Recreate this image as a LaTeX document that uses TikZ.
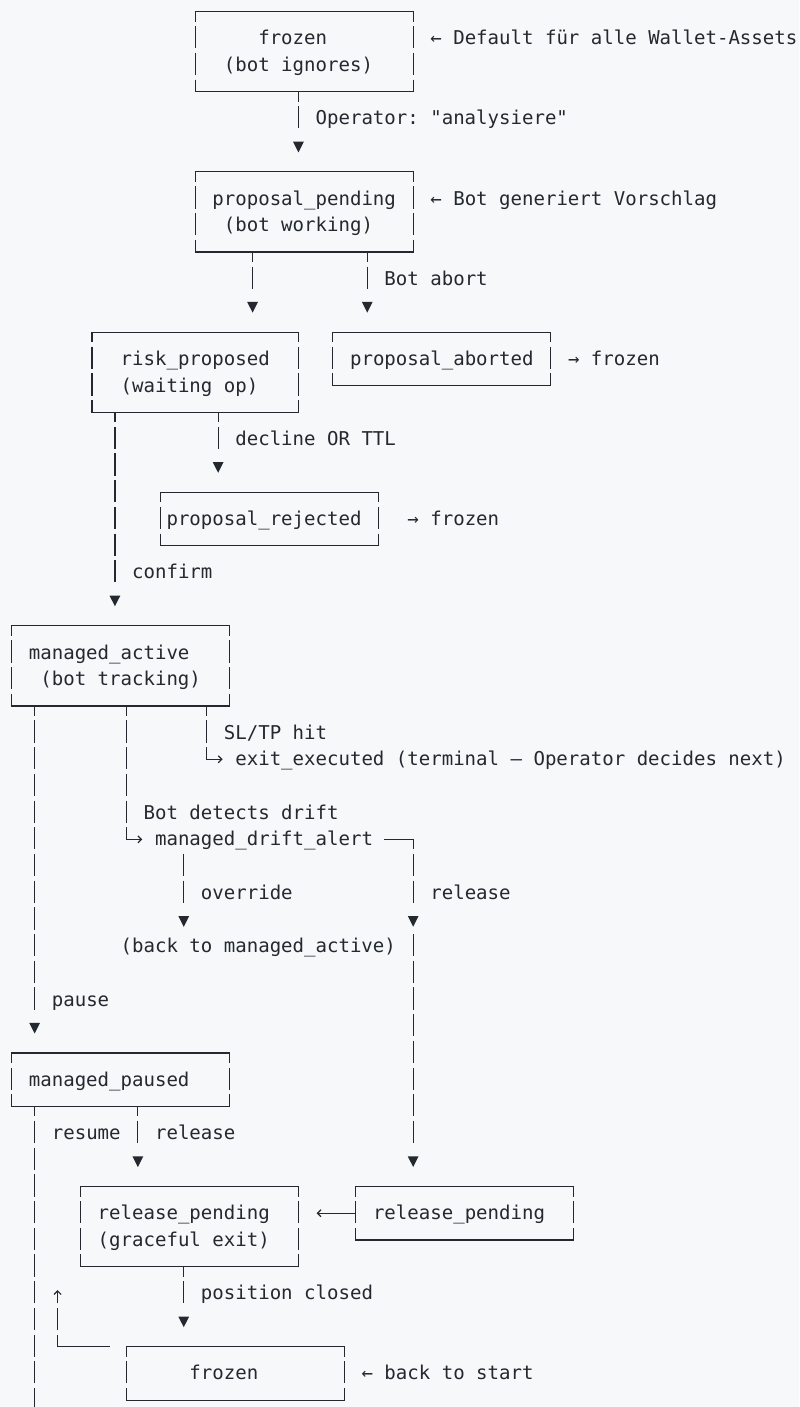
\documentclass[tikz,border=0pt]{standalone}
\usepackage{fontspec}
\newfontfamily\asmono{DejaVu Sans Mono}[Ligatures=TeXOff, WordSpace={1,0,0}]
\usetikzlibrary{arrows.meta}
\definecolor{bgc}{HTML}{F6F8FA}
\definecolor{ink}{HTML}{24292F}
\newlength\cw \setlength\cw{11.47pt}
\frenchspacing
\newcommand\rs{\rule[-6.85pt]{0pt}{26.7pt}}
\newcommand\ind[1]{\hspace*{#1\cw}}
\newcommand\asbox[6]{%
  \pgfmathsetlengthmacro\asbw{(#4-#2)*\cw}%
  \pgfmathsetlengthmacro\asbh{(#5-#3)*26.7pt}%
  \node[align=left, text width=\asbw, minimum width=\asbw, minimum height=\asbh] (#1) at ({(#2+#4)/2},{(#3+#5)/2}) {\spaceskip=\cw\relax\xspaceskip=\cw\relax#6};
  \draw[hl] (#1.north west) -- (#1.north east);
  \draw[hl] (#1.south west) -- (#1.south east);
  \draw[vlA] (#1.north west) -- (#1.south west);
  \draw[vlA] (#1.north east) -- (#1.south east);
}
\begin{document}
\begin{tikzpicture}[x=11.47pt, y=-26.7pt,
  every node/.style={font=\asmono\fontsize{19.05pt}{26.7pt}\selectfont\frenchspacing, text=ink, inner sep=0pt, outer sep=0pt},
  lbl/.style={anchor=west, text height=19.85pt, text depth=6.85pt},
  hl/.style={draw=ink, line width=1.2pt, line cap=rect},
  vlA/.style={draw=ink, line width=1.2pt, dash pattern=on 22.2pt off 4.5pt, dash phase=12.15pt},
  vlB/.style={draw=ink, line width=1.2pt, dash pattern=on 22.2pt off 4.5pt, dash phase=25.5pt},
  vlU/.style={draw=ink, line width=1.2pt, dash pattern=on 22.2pt off 4.5pt, dash phase=10.05pt},
  tri/.style={shorten >=#1},
  tri/.default=43.4pt,
  dn/.pic={\fill[ink] (-5.4pt,10.7pt) -- (5.4pt,10.7pt) -- (0pt,0pt) -- cycle;},
  sm/.style={-{Straight Barb[length=3.5pt,width=7pt]}},
]
\path[fill=bgc, use as bounding box] (-1.02005,-0.43820) rectangle (68.6400,52.2584);

\foreach \c in {2,4,9,10,11,15,17,18,21,25,31,35} {\coordinate (col\c) at (\c,0);}

% boxes
\asbox{fz1}{16}{0}{35}{3}{\ind{5.5}frozen\rs\\\ind{2.5}(bot ignores)\rs}
\asbox{pp}{16}{6}{35}{9}{\ind{1.5}proposal\_pending\rs\\\ind{2.5}(bot working)\rs}
\asbox{rp}{7}{12}{25}{15}{\ind{2.5}risk\_proposed\rs\\\ind{2.5}(waiting op)\rs}
\asbox{pa}{28}{12}{47}{14}{\ind{1.5}proposal\_aborted\rs}
\asbox{rej}{13}{18}{32}{20}{\ind{0.5}proposal\_rejected\rs}
\asbox{ma}{0}{23}{19}{26}{\ind{1.5}managed\_active\rs\\\ind{2.5}(bot tracking)\rs}
\asbox{mp}{0}{39}{19}{41}{\ind{1.5}managed\_paused\rs}
\asbox{rel1}{6}{44}{25}{47}{\ind{1.5}release\_pending\rs\\\ind{1.5}(graceful exit)\rs}
\asbox{rel2}{30}{44}{49}{46}{\ind{1.5}release\_pending\rs}
\asbox{fz2}{10}{50}{29}{52}{\ind{5.5}frozen\rs}

% labels and notes
\node[lbl] (n1) at (36.5,1) {← Default für alle Wallet-Assets};
\node[lbl] (l1) at (26.5,4) {Operator: "analysiere"};
\node[lbl] (n2) at (36.5,7) {← Bot generiert Vorschlag};
\node[lbl] (l3) at (32.5,10) {Bot abort};
\node[lbl] (n3) at (48.5,13) {→ frozen};
\node[lbl] (l5) at (19.5,16) {decline OR TTL};
\node[lbl] (n4) at (34.5,19) {→ frozen};
\node[lbl] (l6) at (10.5,21) {confirm};
\node[lbl] (l7) at (18.5,27) {SL/TP hit};
\node[lbl] (exitx) at (19.5,28) {exit\_executed (terminal — Operator decides next)};
\node[lbl] (l8) at (11.5,30) {Bot detects drift};
\node[lbl] (drift) at (12.5,31) {managed\_drift\_alert};
\node[lbl] (l9) at (16.5,33) {override};
\node[lbl] (l10) at (36.5,33) {release};
\node[lbl] (back) at (9.5,35) {(back to managed\_active)};
\node[lbl] (l11) at (3.5,37) {pause};
\node[lbl] (l12) at (3.5,42) {resume};
\node[lbl] (l13) at (12.5,42) {release};
\node[lbl] (l14) at (16.5,48) {position closed};
\node[lbl] (n5) at (30.5,51) {← back to start};

% connectors
\draw[vlA,tri] (fz1.south -| col25) -- (pp.north -| col25) pic[yshift=19.5pt]{dn};
\draw[vlA,tri] (pp.south -| col21) -- (rp.north -| col21) pic[yshift=19.5pt]{dn};
\draw[vlA,tri] (pp.south -| col31) -- (pa.north -| col31) pic[yshift=19.5pt]{dn};
\draw[vlA,tri] (rp.south -| col18) -- (rej.north -| col18) pic[yshift=19.5pt]{dn};
\draw[vlA,tri] (rp.south -| col9) -- (ma.north -| col9) pic[yshift=19.5pt]{dn};

\coordinate (k7) at (17,28);
\draw[vlA] (ma.south -| col17) -- (k7);
\draw[hl,sm,shorten >=12.8pt] (k7) -- (exitx.west);

\coordinate (k8) at (10,31);
\draw[vlA] (ma.south -| col10) -- (k8);
\draw[hl,sm,shorten >=12.8pt] (k8) -- (drift.west);

\draw[vlB,tri=30pt] (drift.south -| col15) -- (back.north -| col15) pic[yshift=6.1pt]{dn};

\coordinate (k1) at (35,31);
\coordinate (k2) at (35,35);
\coordinate (k3) at (35,34.5);
\draw[hl,shorten <=11.47pt] (drift.east) -- (k1);
\draw[vlA,tri] (k1) -- (k2) pic[yshift=19.5pt]{dn};
\draw[vlB,tri] (k3) -- (rel2.north -| col35) pic[yshift=19.5pt]{dn};

\draw[vlA,tri] (ma.south -| col2) -- (mp.north -| col2) pic[yshift=19.5pt]{dn};
\draw[vlA,tri] (mp.south -| col11) -- (rel1.north -| col11) pic[yshift=19.5pt]{dn};
\coordinate (resEnd) at (2,52.5);
\draw[vlA] (mp.south -| col2) -- (resEnd);

\draw[hl,sm,shorten >=18.2pt] (rel2.west) -- (rel1.east |- rel2.west);
\draw[vlA,tri] (rel1.south -| col15) -- (fz2.north -| col15) pic[yshift=19.5pt]{dn};

\coordinate (k4) at (4,50);
\coordinate (upEnd) at (4,47.88);
\draw[hl,shorten <=17.2pt] (fz2.north west) -- (k4);
\draw[vlU,sm] (k4) -- (upEnd);
\end{tikzpicture}
\end{document}
